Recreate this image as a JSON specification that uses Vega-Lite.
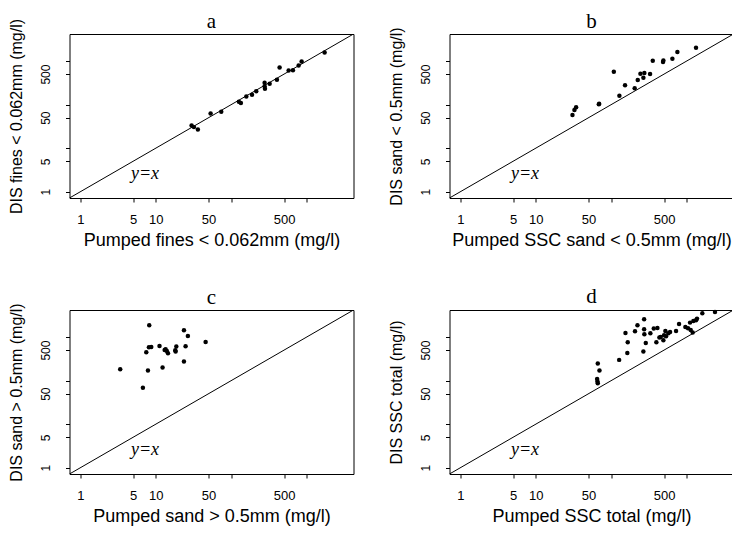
{
  "$schema": "https://vega.github.io/schema/vega-lite/v6.json",
  "background": "white",
  "padding": {"left": 7.5, "top": 10, "right": 0, "bottom": 0},
  "bounds": "flush",
  "columns": 2,
  "spacing": {"row": 112, "column": 96},
  "datasets": {
    "diag": [{"x": 0.5, "y": 0.5}, {"x": 10000, "y": 10000}],
    "lab": [{"x": 7.2, "y": 2.6, "t": "y=x"}],
    "a": [
      {"x": 29.8, "y": 33.2}, {"x": 32.0, "y": 30.4}, {"x": 36.1, "y": 26.9}, {"x": 53.2, "y": 62.6},
      {"x": 73.6, "y": 68.3}, {"x": 126, "y": 116}, {"x": 134, "y": 108}, {"x": 158, "y": 153},
      {"x": 188, "y": 167}, {"x": 214, "y": 203}, {"x": 276, "y": 315}, {"x": 276, "y": 264},
      {"x": 279, "y": 230}, {"x": 322, "y": 299}, {"x": 402, "y": 369}, {"x": 436, "y": 706},
      {"x": 574, "y": 603}, {"x": 655, "y": 614}, {"x": 779, "y": 785}, {"x": 853, "y": 969},
      {"x": 1720, "y": 1557}
    ],
    "b": [
      {"x": 30.6, "y": 57.8}, {"x": 32.5, "y": 75.2}, {"x": 34.2, "y": 86.5}, {"x": 68.3, "y": 101},
      {"x": 69, "y": 105}, {"x": 108, "y": 567}, {"x": 128, "y": 160}, {"x": 152, "y": 276},
      {"x": 204, "y": 236}, {"x": 224, "y": 365}, {"x": 243, "y": 510}, {"x": 266, "y": 413},
      {"x": 274, "y": 529}, {"x": 326, "y": 501}, {"x": 354, "y": 1012}, {"x": 484, "y": 944},
      {"x": 489, "y": 1030}, {"x": 644, "y": 1125}, {"x": 750, "y": 1599}, {"x": 1324, "y": 2009}
    ],
    "c": [
      {"x": 3.38, "y": 182}, {"x": 6.75, "y": 68.2}, {"x": 7.48, "y": 447}, {"x": 7.87, "y": 170},
      {"x": 8.19, "y": 1853}, {"x": 8.11, "y": 581}, {"x": 8.71, "y": 591}, {"x": 11.2, "y": 623},
      {"x": 12.3, "y": 199}, {"x": 13.1, "y": 505}, {"x": 14.0, "y": 479}, {"x": 14.5, "y": 424},
      {"x": 13.5, "y": 523}, {"x": 18.1, "y": 496}, {"x": 18.7, "y": 602}, {"x": 18.3, "y": 462},
      {"x": 23.6, "y": 1423}, {"x": 23.6, "y": 273}, {"x": 24.8, "y": 612}, {"x": 26.6, "y": 1056},
      {"x": 45.7, "y": 769}
    ],
    "d": [
      {"x": 66.2, "y": 246}, {"x": 69.7, "y": 170}, {"x": 64.9, "y": 108}, {"x": 65.6, "y": 95.2},
      {"x": 66.2, "y": 87.2}, {"x": 127, "y": 298}, {"x": 154, "y": 1237}, {"x": 163, "y": 431},
      {"x": 165, "y": 756}, {"x": 206, "y": 1350}, {"x": 222, "y": 1853}, {"x": 266, "y": 463},
      {"x": 272, "y": 2541}, {"x": 272, "y": 1500}, {"x": 274, "y": 1153}, {"x": 286, "y": 730},
      {"x": 329, "y": 1216}, {"x": 365, "y": 1555}, {"x": 408, "y": 1609}, {"x": 395, "y": 756},
      {"x": 433, "y": 968}, {"x": 489, "y": 840}, {"x": 499, "y": 1094}, {"x": 520, "y": 1374},
      {"x": 531, "y": 1038}, {"x": 570, "y": 1216}, {"x": 600, "y": 1304}, {"x": 720, "y": 1374},
      {"x": 789, "y": 1987}, {"x": 957, "y": 1697}, {"x": 1037, "y": 1582}, {"x": 1103, "y": 2132},
      {"x": 1196, "y": 1259}, {"x": 1220, "y": 2328}, {"x": 1324, "y": 2411}, {"x": 1364, "y": 2632},
      {"x": 1604, "y": 3487}, {"x": 2360, "y": 3741}, {"x": 451, "y": 1002}, {"x": 1125, "y": 1449}
    ]
  },
  "concat": [
    {
      "title": {"text": "a", "dy": 22},
      "width": 284, "height": 164,
      "layer": [
        {"data": {"name": "diag"}, "mark": {"type": "line", "color": "black", "strokeWidth": 1, "clip": true},
         "encoding": {
           "x": {"field": "x", "type": "quantitative", "title": "Pumped fines < 0.062mm (mg/l)", "axis": {"values": [1, 5, 10, 50, 100, 500, 1000]}, "scale": {"type": "log", "domain": [0.72, 4150], "nice": false}},
           "y": {"field": "y", "type": "quantitative", "title": "DIS fines < 0.062mm (mg/l)", "axis": {"values": [1, 5, 10, 50, 100, 500, 1000]}, "scale": {"type": "log", "domain": [0.72, 4150], "nice": false}}}},
        {"data": {"name": "a"}, "mark": {"type": "circle", "color": "black", "opacity": 1, "size": 20},
         "encoding": {
           "x": {"field": "x", "type": "quantitative", "title": "Pumped fines < 0.062mm (mg/l)"},
           "y": {"field": "y", "type": "quantitative", "title": "DIS fines < 0.062mm (mg/l)"}}},
        {"data": {"name": "lab"}, "mark": {"type": "text", "font": "Liberation Serif", "fontStyle": "italic", "fontSize": 18, "align": "center", "baseline": "middle", "color": "black"},
         "encoding": {
           "x": {"field": "x", "type": "quantitative", "title": "Pumped fines < 0.062mm (mg/l)"},
           "y": {"field": "y", "type": "quantitative", "title": "DIS fines < 0.062mm (mg/l)"},
           "text": {"field": "t"}}}
      ]
    },
    {
      "title": {"text": "b", "dy": 13},
      "width": 284, "height": 164,
      "layer": [
        {"data": {"name": "diag"}, "mark": {"type": "line", "color": "black", "strokeWidth": 1, "clip": true},
         "encoding": {
           "x": {"field": "x", "type": "quantitative", "title": "Pumped SSC sand < 0.5mm (mg/l)", "axis": {"values": [1, 5, 10, 50, 100, 500, 1000]}, "scale": {"type": "log", "domain": [0.72, 4150], "nice": false}},
           "y": {"field": "y", "type": "quantitative", "title": "DIS sand < 0.5mm (mg/l)", "axis": {"values": [1, 5, 10, 50, 100, 500, 1000]}, "scale": {"type": "log", "domain": [0.72, 4150], "nice": false}}}},
        {"data": {"name": "b"}, "mark": {"type": "circle", "color": "black", "opacity": 1, "size": 20},
         "encoding": {
           "x": {"field": "x", "type": "quantitative", "title": "Pumped SSC sand < 0.5mm (mg/l)"},
           "y": {"field": "y", "type": "quantitative", "title": "DIS sand < 0.5mm (mg/l)"}}},
        {"data": {"name": "lab"}, "mark": {"type": "text", "font": "Liberation Serif", "fontStyle": "italic", "fontSize": 18, "align": "center", "baseline": "middle", "color": "black"},
         "encoding": {
           "x": {"field": "x", "type": "quantitative", "title": "Pumped SSC sand < 0.5mm (mg/l)"},
           "y": {"field": "y", "type": "quantitative", "title": "DIS sand < 0.5mm (mg/l)"},
           "text": {"field": "t"}}}
      ]
    },
    {
      "title": {"text": "c", "dy": 13},
      "width": 284, "height": 164,
      "layer": [
        {"data": {"name": "diag"}, "mark": {"type": "line", "color": "black", "strokeWidth": 1, "clip": true},
         "encoding": {
           "x": {"field": "x", "type": "quantitative", "title": "Pumped sand > 0.5mm (mg/l)", "axis": {"values": [1, 5, 10, 50, 100, 500, 1000]}, "scale": {"type": "log", "domain": [0.72, 4150], "nice": false}},
           "y": {"field": "y", "type": "quantitative", "title": "DIS sand > 0.5mm (mg/l)", "axis": {"values": [1, 5, 10, 50, 100, 500, 1000]}, "scale": {"type": "log", "domain": [0.72, 4150], "nice": false}}}},
        {"data": {"name": "c"}, "mark": {"type": "circle", "color": "black", "opacity": 1, "size": 20},
         "encoding": {
           "x": {"field": "x", "type": "quantitative", "title": "Pumped sand > 0.5mm (mg/l)"},
           "y": {"field": "y", "type": "quantitative", "title": "DIS sand > 0.5mm (mg/l)"}}},
        {"data": {"name": "lab"}, "mark": {"type": "text", "font": "Liberation Serif", "fontStyle": "italic", "fontSize": 18, "align": "center", "baseline": "middle", "color": "black"},
         "encoding": {
           "x": {"field": "x", "type": "quantitative", "title": "Pumped sand > 0.5mm (mg/l)"},
           "y": {"field": "y", "type": "quantitative", "title": "DIS sand > 0.5mm (mg/l)"},
           "text": {"field": "t"}}}
      ]
    },
    {
      "title": {"text": "d", "dy": 5},
      "width": 284, "height": 164,
      "layer": [
        {"data": {"name": "diag"}, "mark": {"type": "line", "color": "black", "strokeWidth": 1, "clip": true},
         "encoding": {
           "x": {"field": "x", "type": "quantitative", "title": "Pumped SSC total (mg/l)", "axis": {"values": [1, 5, 10, 50, 100, 500, 1000]}, "scale": {"type": "log", "domain": [0.72, 4150], "nice": false}},
           "y": {"field": "y", "type": "quantitative", "title": "DIS SSC total (mg/l)", "axis": {"values": [1, 5, 10, 50, 100, 500, 1000]}, "scale": {"type": "log", "domain": [0.72, 4150], "nice": false}}}},
        {"data": {"name": "d"}, "mark": {"type": "circle", "color": "black", "opacity": 1, "size": 20},
         "encoding": {
           "x": {"field": "x", "type": "quantitative", "title": "Pumped SSC total (mg/l)"},
           "y": {"field": "y", "type": "quantitative", "title": "DIS SSC total (mg/l)"}}},
        {"data": {"name": "lab"}, "mark": {"type": "text", "font": "Liberation Serif", "fontStyle": "italic", "fontSize": 18, "align": "center", "baseline": "middle", "color": "black"},
         "encoding": {
           "x": {"field": "x", "type": "quantitative", "title": "Pumped SSC total (mg/l)"},
           "y": {"field": "y", "type": "quantitative", "title": "DIS SSC total (mg/l)"},
           "text": {"field": "t"}}}
      ]
    }
  ],
  "config": {
    "view": {"stroke": "black", "strokeWidth": 1},
    "title": {"font": "Liberation Serif", "fontSize": 21, "fontWeight": "normal", "color": "black", "baseline": "alphabetic", "offset": 8, "anchor": "middle", "frame": "group"},
    "axis": {
      "grid": false, "domain": false, "tickColor": "black", "tickSize": 4, "tickWidth": 1,
      "format": "d",
      "labelFont": "Liberation Sans", "labelColor": "black", "labelOverlap": false, "labelFlush": false,
      "titleFont": "Liberation Sans", "titleFontWeight": "normal", "titleColor": "black"
    },
    "axisX": {
      "labelFontSize": 13, "labelPadding": 11, "titleFontSize": 18, "titlePadding": 5,
      "labelExpr": "datum.value == 100 || datum.value == 1000 ? '' : datum.label"
    },
    "axisY": {
      "labelFontSize": 12, "labelAngle": -90, "labelAlign": "center", "labelBaseline": "bottom", "labelPadding": 13,
      "titleFontSize": 16, "titlePadding": 15,
      "labelExpr": "datum.value == 10 || datum.value == 100 || datum.value == 1000 ? '' : datum.label"
    }
  }
}
